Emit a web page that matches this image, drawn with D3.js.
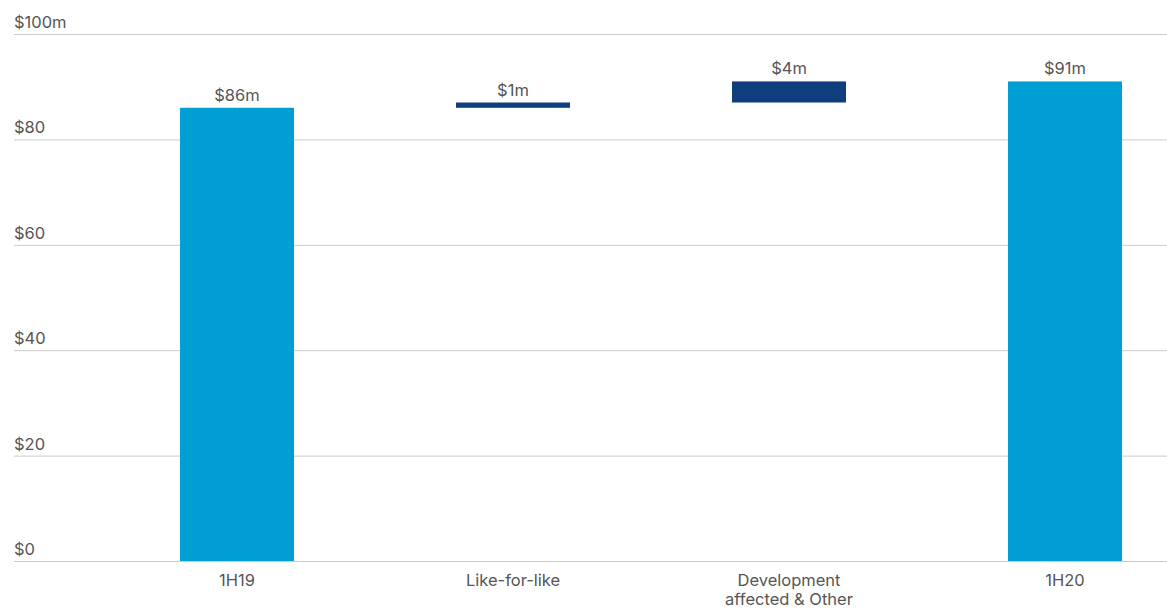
<!DOCTYPE html>
<html>
<head>
<meta charset="utf-8">
<script src="https://cdn.jsdelivr.net/npm/d3@7"></script>
<style>
  html, body { margin: 0; padding: 0; background: #fff; }
  svg text { font-family: Inter, "Open Sans", sans-serif; fill: #555; }
</style>
</head>
<body>
<svg id="chart" width="1167" height="610"></svg>
<script>
// Waterfall of earnings, $m
const categories = ["1H19", "Like-for-like", "Development affected & Other", "1H20"];
const categoryLines = [["1H19"], ["Like-for-like"], ["Development", "affected & Other"], ["1H20"]];
const values = [86, 1, 4, 91];
const kinds = ["total", "delta", "delta", "total"];
const valueLabels = ["$86m", "$1m", "$4m", "$91m"];
const yTicks = [0, 20, 40, 60, 80, 100];
const yTickLabels = ["$0", "$20", "$40", "$60", "$80", "$100m"];

const colors = { total: "#009fd3", delta: "#0e3e7d" };

const svg = d3.select("#chart");
const gridLeft = 14, gridRight = 1167;
const fontSize = 16.5;

const y = d3.scaleLinear().domain([0, 100]).range([561, 34]);
const x = d3.scaleBand().domain(categories).range([99, 1203])
  .paddingInner(0.587).paddingOuter(0.2935);

// Build waterfall segments: totals start from zero, deltas stack on the running total
let running = 0;
const segs = categories.map((c, i) => {
  let lo, hi;
  if (kinds[i] === "total") { lo = 0; hi = values[i]; running = values[i]; }
  else { lo = running; hi = running + values[i]; running = hi; }
  return { cat: c, lo, hi, kind: kinds[i], label: valueLabels[i], lines: categoryLines[i] };
});

// Gridlines and y labels
const grid = svg.append("g");
grid.selectAll("line").data(yTicks).join("line")
  .attr("x1", gridLeft).attr("x2", gridRight)
  .attr("y1", d => y(d) + 0.5).attr("y2", d => y(d) + 0.5)
  .attr("stroke", "#cccccc").attr("stroke-width", 1);
grid.selectAll("text").data(yTicks).join("text")
  .attr("x", gridLeft).attr("y", d => y(d) - 6)
  .attr("font-size", fontSize)
  .text((d, i) => yTickLabels[i]);

// Bars
svg.append("g").selectAll("rect").data(segs).join("rect")
  .attr("x", d => x(d.cat))
  .attr("width", x.bandwidth())
  .attr("y", d => y(d.hi))
  .attr("height", d => y(d.lo) - y(d.hi))
  .attr("fill", d => colors[d.kind]);

// Value labels
svg.append("g").selectAll("text").data(segs).join("text")
  .attr("x", d => x(d.cat) + x.bandwidth() / 2)
  .attr("y", d => y(d.hi) - 7)
  .attr("text-anchor", "middle")
  .attr("font-size", fontSize)
  .text(d => d.label);

// Category labels
const cl = svg.append("g").selectAll("text").data(segs).join("text")
  .attr("x", d => x(d.cat) + x.bandwidth() / 2)
  .attr("y", 586)
  .attr("text-anchor", "middle")
  .attr("font-size", fontSize);
cl.selectAll("tspan").data(d => d.lines.map(l => ({ l, cx: x(d.cat) + x.bandwidth() / 2 })))
  .join("tspan")
  .attr("x", d => d.cx)
  .attr("dy", (d, i) => i === 0 ? 0 : 19)
  .text(d => d.l);
</script>
</body>
</html>
